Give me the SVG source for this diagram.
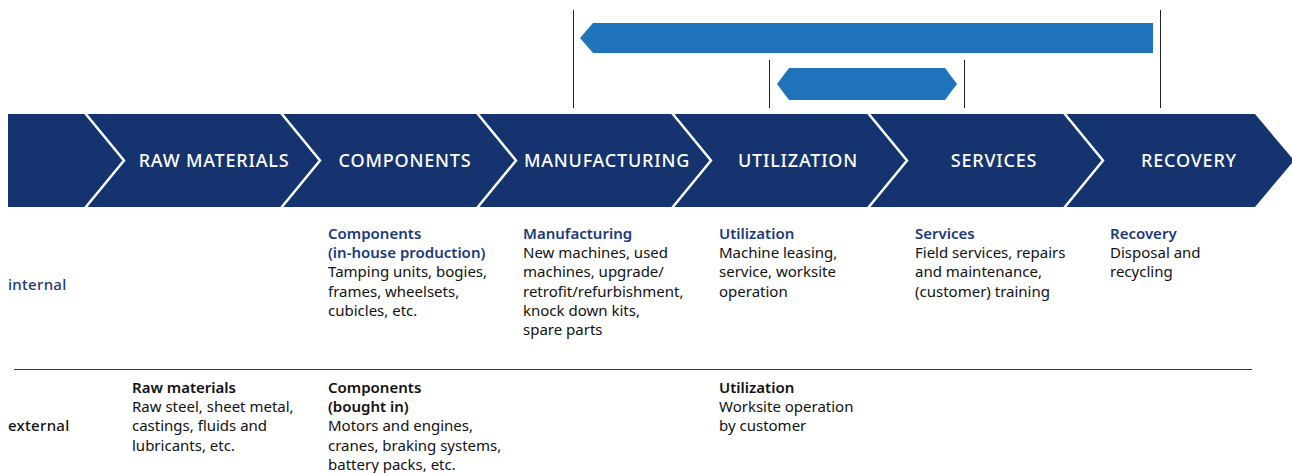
<svg xmlns="http://www.w3.org/2000/svg" width="1292" height="473" viewBox="0 0 1292 473">
<style>
.bar{fill:#1f73ba}
.vl{stroke:#222;stroke-width:1}
.sep{fill:none;stroke:#fff;stroke-width:2.5}
.hd{font-family:"Noto Sans",sans-serif;font-size:18px;font-weight:500;letter-spacing:0.8px;fill:#fff;text-anchor:middle}
.t{font-family:"Noto Sans",sans-serif;font-size:15px;fill:#111}
.tb{font-weight:600;fill:#1b3a7c}
.eb{font-weight:600;fill:#111}
.lab{font-family:"Noto Sans",sans-serif;font-size:15px;font-weight:500;letter-spacing:0.3px}
</style>
<rect width="1292" height="473" fill="#fff"/>
<g id="bars">
<line class="vl" x1="573.5" y1="10" x2="573.5" y2="108"/>
<line class="vl" x1="1160.5" y1="10" x2="1160.5" y2="108"/>
<line class="vl" x1="769.5" y1="60" x2="769.5" y2="108"/>
<line class="vl" x1="964.5" y1="60" x2="964.5" y2="108"/>
<polygon class="bar" points="580,38 593,23 1153,23 1153,53 593,53"/>
<polygon class="bar" points="777,84 789,68 945,68 957,84 945,100 789,100"/>
</g>
<g id="band">
<polygon fill="#14336f" points="8,114 1255,114 1294,160.5 1255,207 8,207"/>
<g id="separators">
<polyline class="sep" points="85,113 124,160.5 85,208"/>
<polyline class="sep" points="281,113 320,160.5 281,208"/>
<polyline class="sep" points="477,113 516,160.5 477,208"/>
<polyline class="sep" points="672,113 711,160.5 672,208"/>
<polyline class="sep" points="868,113 907,160.5 868,208"/>
<polyline class="sep" points="1064,113 1103,160.5 1064,208"/>
</g>
<text class="hd" x="214" y="167">RAW MATERIALS</text>
<text class="hd" x="405" y="167">COMPONENTS</text>
<text class="hd" x="607" y="167">MANUFACTURING</text>
<text class="hd" x="798" y="167">UTILIZATION</text>
<text class="hd" x="994" y="167">SERVICES</text>
<text class="hd" x="1189" y="167">RECOVERY</text>
</g>
<g id="rows">
<text class="lab" x="8" y="290" fill="#1b3a7c">internal</text>
<text class="lab" x="8" y="431" fill="#111">external</text>
<line x1="14" y1="369.5" x2="1252" y2="369.5" stroke="#1b3a7c" stroke-width="1"/>
</g>
<g id="internal">
<text class="t" x="328" y="239"><tspan class="tb">Components</tspan><tspan class="tb" x="328" dy="19.2">(in-house production)</tspan><tspan x="328" dy="19.2">Tamping units, bogies,</tspan><tspan x="328" dy="19.2">frames, wheelsets,</tspan><tspan x="328" dy="19.2">cubicles, etc.</tspan></text>
<text class="t" x="523" y="239"><tspan class="tb">Manufacturing</tspan><tspan x="523" dy="19.2">New machines, used</tspan><tspan x="523" dy="19.2">machines, upgrade/</tspan><tspan x="523" dy="19.2">retrofit/refurbishment,</tspan><tspan x="523" dy="19.2">knock down kits,</tspan><tspan x="523" dy="19.2">spare parts</tspan></text>
<text class="t" x="719" y="239"><tspan class="tb">Utilization</tspan><tspan x="719" dy="19.2">Machine leasing,</tspan><tspan x="719" dy="19.2">service, worksite</tspan><tspan x="719" dy="19.2">operation</tspan></text>
<text class="t" x="915" y="239"><tspan class="tb">Services</tspan><tspan x="915" dy="19.2">Field services, repairs</tspan><tspan x="915" dy="19.2">and maintenance,</tspan><tspan x="915" dy="19.2">(customer) training</tspan></text>
<text class="t" x="1110" y="239"><tspan class="tb">Recovery</tspan><tspan x="1110" dy="19.2">Disposal and</tspan><tspan x="1110" dy="19.2">recycling</tspan></text>
</g>
<g id="external">
<text class="t" x="132" y="393"><tspan class="eb">Raw materials</tspan><tspan x="132" dy="19.2">Raw steel, sheet metal,</tspan><tspan x="132" dy="19.2">castings, fluids and</tspan><tspan x="132" dy="19.2">lubricants, etc.</tspan></text>
<text class="t" x="328" y="393"><tspan class="eb">Components</tspan><tspan class="eb" x="328" dy="19.2">(bought in)</tspan><tspan x="328" dy="19.2">Motors and engines,</tspan><tspan x="328" dy="19.2">cranes, braking systems,</tspan><tspan x="328" dy="19.2">battery packs, etc.</tspan></text>
<text class="t" x="719" y="393"><tspan class="eb">Utilization</tspan><tspan x="719" dy="19.2">Worksite operation</tspan><tspan x="719" dy="19.2">by customer</tspan></text>
</g>
</svg>
